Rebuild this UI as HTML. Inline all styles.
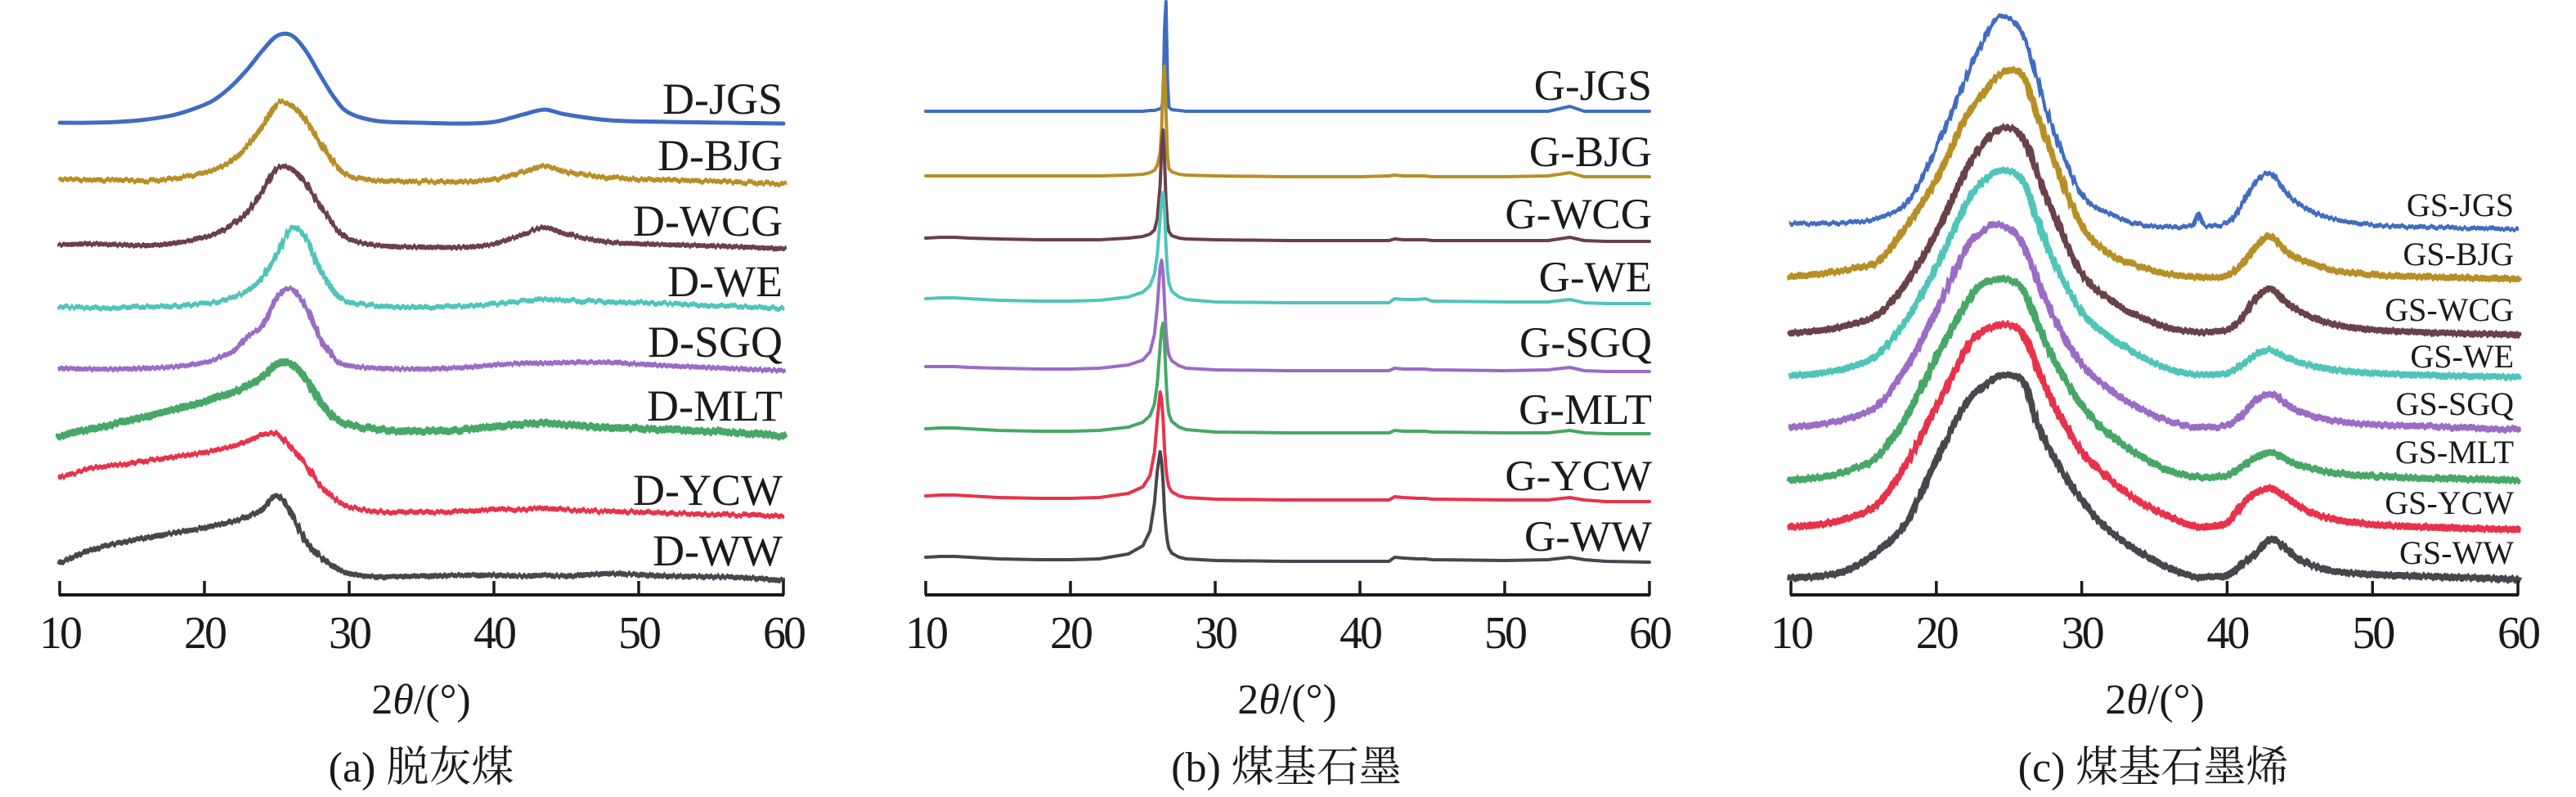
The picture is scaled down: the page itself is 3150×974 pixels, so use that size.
<!DOCTYPE html>
<html><head><meta charset="utf-8"><style>
html,body{margin:0;padding:0;background:#fff;}
svg{display:block;}
text{font-family:"Liberation Serif","Noto Serif CJK SC","Noto Sans CJK SC",serif;fill:#1a1a1a;}
</style></head><body>
<svg id="fig" width="3150" height="974" viewBox="0 0 3150 974" xmlns="http://www.w3.org/2000/svg">
<defs>
<filter id="noise" x="-2%" y="-10%" width="104%" height="120%">
<feTurbulence type="fractalNoise" baseFrequency="0.35 0.02" numOctaves="1" seed="3" result="t"/>
<feDisplacementMap in="SourceGraphic" in2="t" scale="7" xChannelSelector="R" yChannelSelector="G"/>
</filter>
</defs>
<g id="pa"></g>
<g id="pb"></g>
<g id="pc"></g>
<text x="515" y="872" font-size="52" text-anchor="middle">2<tspan font-style="italic">θ</tspan>/(°)</text>
<text x="1574" y="872" font-size="52" text-anchor="middle">2<tspan font-style="italic">θ</tspan>/(°)</text>
<text x="2635" y="872" font-size="52" text-anchor="middle">2<tspan font-style="italic">θ</tspan>/(°)</text>
<text x="515" y="955" font-size="52" text-anchor="middle">(a) 脱灰煤</text>
<text x="1573" y="955" font-size="52" text-anchor="middle">(b) 煤基石墨</text>
<text x="2633" y="955" font-size="52" text-anchor="middle">(c) 煤基石墨烯</text>
</svg>
<script>
var colors = ["#3f6cc2","#b88f25","#6a3f49","#4fc5b9","#9a6cc6","#47a766","#e8334b","#45474d"];
var xTicks = [10,20,30,40,50,60];

// Panel A
var namesA = ["D-JGS","D-BJG","D-WCG","D-WE","D-SGQ","D-MLT","D-YCW","D-WW"];
var offsetsA = [576,502,423,350,274,194,96,18];
var xA = [10,12,14,16,18,20,21,22,23,24,25,26,27,28,29,30,32,35,38,40,42,43.5,45,48,52,56,60];
var aJGS = [1,1,2,5,11,23,33,48,67,89,107,108,89,59,31,13,3,1,0,2,11,17,11,4,2,1,0];
var aBJG = [6,5,5,4,7,14,20,30,48,70,98,97,78,50,25,10,4,3,3,6,15,22,15,8,5,3,0];
var aWCG = [5,6,5,4,7,14,20,30,46,70,98,98,80,52,28,12,4,2,2,6,18,26,18,8,5,3,0];
var aWE  = [2,1,1,2,3,6,9,14,22,38,66,98,86,48,20,8,3,2,3,5,9,11,10,8,6,3,0];
var aSGQ = [3,2,2,3,5,10,16,24,42,55,90,100,78,40,14,6,3,2,4,7,9,9,10,10,6,3,0];
var aMLT = [0,8,16,24,33,42,48,54,62,72,88,88,70,42,22,14,8,6,8,12,15,16,14,10,8,5,0];
var aYCW = [47,58,63,68,73,78,82,86,92,100,100,84,62,38,22,12,6,5,6,8,9,10,8,6,4,2,0];
var aWW  = [21,36,45,52,58,64,68,72,78,88,103,80,48,28,16,8,4,5,6,6,5,6,5,8,5,4,0];

// Panel B
var namesB = ["G-JGS","G-BJG","G-WCG","G-WE","G-SGQ","G-MLT","G-YCW","G-WW"];
var offsetsB = [591,511,432,356,273,197,114,40];
var xB = [10,11,12,13,15,18,20,22,24,25,25.5,25.8,26.0,26.2,26.3,26.4,26.5,26.6,26.7,26.8,27,27.5,28,30,35,40,42,42.4,43,44,44.5,45,50,53,54.5,55.5,57,60];
var bJGS = [0,0,0,0,0,0,0,0,0,0,1,1,2,3,5,15,100,134,40,5,2,1,0,0,0,0,0,0,0,0,0,0,0,0,6,0,0,0];
var bBJG = [1,1,1,1,1,1,1,1,2,3,5,8,14,30,60,115,135,80,25,10,6,3,2,1,0,0,1,2,1,1,1,0,0,1,5,0,0,0];
var bWCG = [4,5,5,4,3,2,2,2,4,6,9,14,28,70,115,136,100,50,22,12,7,4,3,2,1,1,1,3,2,2,2,1,1,1,5,1,0,0];
var bWE  = [6,7,7,6,4,3,3,4,8,14,22,36,60,105,128,136,115,70,40,25,15,8,5,2,1,1,1,6,5,5,6,3,2,2,5,1,0,0];
var bSGQ = [6,6,6,5,4,3,3,4,8,14,24,45,80,128,136,120,85,50,30,20,13,7,4,2,1,1,1,4,3,3,3,2,1,2,5,1,0,0];
var bMLT = [6,7,7,6,4,3,3,4,8,14,22,36,62,108,128,135,112,68,38,24,15,8,5,2,1,1,1,4,3,3,3,2,1,1,4,1,0,0];
var bYCW = [7,8,8,7,5,4,4,5,10,18,32,60,100,134,125,100,65,40,26,18,12,7,5,3,2,2,2,6,5,4,4,3,2,2,5,2,0,0];
var bWW  = [6,7,7,6,4,3,3,4,10,20,38,72,112,135,122,98,62,40,25,17,11,6,4,2,1,1,1,6,5,4,4,3,2,3,6,3,1,0];

// Panel C
var namesC = ["GS-JGS","GS-BJG","GS-WCG","GS-WE","GS-SGQ","GS-MLT","GS-YCW","GS-WW"];
var offsetsC = [447,386,318,266,202,140,80,19];
var xC = [10,12,14,16,18,20,22,23,24,25,26,27,28,30,32,34,36,37.5,38,38.5,40,41,42,43,44,45,47,50,55,60];
var cJGS = [7,7,8,14,33,99,183,221,255,258,236,180,124,43,18,6,3,4,18,4,8,30,58,68,46,30,14,5,2,0];
var cBJG = [3,6,12,22,66,122,197,222,244,255,247,197,150,65,30,15,6,3,2,2,4,18,40,52,35,24,12,5,2,0];
var cWCG = [2,5,12,25,65,125,200,228,248,253,240,195,150,75,42,22,8,4,3,3,6,20,45,56,40,28,14,6,2,0];
var cWE  = [2,5,12,28,72,135,210,235,250,252,238,190,145,80,48,26,10,4,3,3,5,15,28,33,25,18,10,5,2,0];
var cSGQ = [3,6,14,30,78,145,220,240,250,245,225,180,140,80,48,26,10,4,3,3,5,18,36,44,32,22,12,6,3,0];
var cMLT = [0,4,12,30,80,150,215,238,245,245,232,190,150,92,55,30,12,5,4,4,6,16,28,34,26,18,10,5,2,0];
var cYCW = [3,6,14,32,82,150,218,240,248,250,238,195,155,95,60,34,16,5,3,3,8,30,45,50,40,28,14,6,2,0];
var cWW  = [2,4,12,35,71,146,214,232,246,249,240,189,152,96,58,33,14,4,2,3,5,18,33,49,39,24,11,6,3,0];

var NS = "http://www.w3.org/2000/svg";
var AXIS_Y = 727;
function mk(tag, attrs, parent){var e=document.createElementNS(NS,tag);for(var k in attrs)e.setAttribute(k,attrs[k]);parent.appendChild(e);return e;}
function yScale(v){return AXIS_Y - v;}

function pathFrom(pts, smooth){
  var d="M"+pts[0][0].toFixed(1)+","+pts[0][1].toFixed(1);
  if(!smooth){for(var i=1;i<pts.length;i++)d+="L"+pts[i][0].toFixed(1)+","+pts[i][1].toFixed(1);return d;}
  for(var i=0;i<pts.length-1;i++){
    var p0=pts[Math.max(0,i-1)],p1=pts[i],p2=pts[i+1],p3=pts[Math.min(pts.length-1,i+2)];
    var c1x=p1[0]+(p2[0]-p0[0])/6,c1y=p1[1]+(p2[1]-p0[1])/6;
    var c2x=p2[0]-(p3[0]-p1[0])/6,c2y=p2[1]-(p3[1]-p1[1])/6;
    d+="C"+c1x.toFixed(1)+","+c1y.toFixed(1)+" "+c2x.toFixed(1)+","+c2y.toFixed(1)+" "+p2[0].toFixed(1)+","+p2[1].toFixed(1);
  }
  return d;
}

function drawPanel(gid, x0, x1, xs, series, names, offsets, labelRight, labelFont, labelDy, widths, noisy, smooth, prefix){
  var g=document.getElementById(gid);
  function xScale(t){return x0 + (t-10)/50*(x1-x0);}
  for(var s=0;s<series.length;s++){
    var pts=[];
    for(var i=0;i<xs.length;i++) pts.push([xScale(xs[i]), yScale(series[s][i]+offsets[s])]);
    var attrs={d:pathFrom(pts,smooth),fill:"none",stroke:colors[s],"stroke-width":widths[s],"stroke-linejoin":"round","stroke-linecap":"round"};
    if(noisy[s]) attrs.filter="url(#noise)";
    var p=mk("path",attrs,g);
    
    
    var t=mk("text",{x:labelRight,y:yScale(offsets[s])-labelDy[s],"font-size":labelFont,"text-anchor":"end"},g);
    t.textContent=names[s];
    
    
  }
  var ax=mk("line",{x1:x0-1,y1:AXIS_Y,x2:x1+1,y2:AXIS_Y,stroke:"#1a1a1a","stroke-width":4},g);
  
  
  for(var k=0;k<xTicks.length;k++){
    var tx=xScale(xTicks[k]);
    var tk=mk("line",{x1:tx,y1:AXIS_Y,x2:tx,y2:AXIS_Y-17,stroke:"#1a1a1a","stroke-width":3.5},g);
    
    
    var tl=mk("text",{x:tx,y:792,"font-size":56,"text-anchor":"middle","letter-spacing":"-3"},g);
    tl.textContent=String(xTicks[k]);
    
    
  }
}

drawPanel("pa",73,958,xA,[aJGS,aBJG,aWCG,aWE,aSGQ,aMLT,aYCW,aWW],namesA,offsetsA,957,54,
  [12,17,16,15,17,19,14,18],[5,6,6,6,6,9,6,6.5],[0,1,1,1,1,1,1,1],true,"a");
drawPanel("pb",1132,2017,xB,[bJGS,bBJG,bWCG,bWE,bSGQ,bMLT,bYCW,bWW],namesB,offsetsB,2020,53,
  [14,13,16,15,18,12,14,14],[4,4,4,4,4,4,4,4],[0,0,0,0,0,0,0,0],false,"b");
drawPanel("pc",2190,3079,xC,[cJGS,cBJG,cWCG,cWE,cSGQ,cMLT,cYCW,cWW],namesC,offsetsC,3074,40,
  [16,17,17,12,18,21,19,19],[5.5,8,8,8,8,8.5,8.5,8.5],[1,1,1,1,1,1,1,1],true,"c");
</script>
</body></html>
